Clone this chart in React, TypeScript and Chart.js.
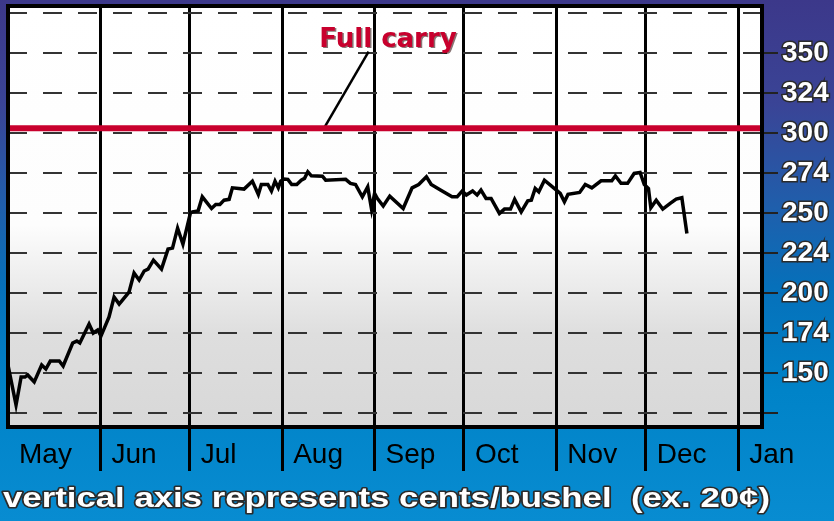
import { useEffect, useRef } from "react";
import { Chart, registerables } from "chart.js";

Chart.register(...registerables);

// ---- data ----
const monthLabels = ["May", "Jun", "Jul", "Aug", "Sep", "Oct", "Nov", "Dec", "Jan"];
const monthStartDays = [0, 31, 61, 92, 123, 153, 184, 214, 245];

const yTickValues = [125, 150, 175, 200, 225, 250, 275, 300, 325, 350, 375];
const yTickLabels = ["", "150", "174", "200", "224", "250", "274", "300", "324", "350", ""];

const priceDays = [
  0, 2.7, 4.4, 5.7, 6.6, 8.8, 11.3, 12.7, 14.2, 17.2,
  18.5, 21.7, 23.1, 24.1, 27.2, 28.6, 30.1, 31.2, 33.9, 35.6,
  37.3, 40.6, 42.3, 44.0, 45.7, 47.0, 48.8, 51.5, 53.7, 55.2,
  56.9, 58.7, 61.2, 61.9, 63.8, 65.2, 68.3, 69.7, 71.1, 72.5,
  74.2, 75.3, 79.2, 82.0, 84.0, 85.0, 87.2, 88.4, 89.6, 90.7,
  91.5, 92.6, 93.9, 95.2, 96.9, 98.4, 99.5, 100.6, 101.8, 105.5,
  106.6, 113.3, 114.9, 116.6, 118.9, 120.7, 122.0, 123.0, 123.9, 125.9,
  128.1, 132.6, 135.6, 137.8, 140.4, 142.0, 145.1, 149.0, 150.7, 152.4,
  153.8, 155.9, 157.4, 158.7, 160.4, 162.1, 164.9, 166.6, 168.6, 170.0,
  172.2, 174.4, 175.6, 176.9, 178.1, 180.0, 183.6, 185.3, 186.7, 187.9,
  191.8, 193.7, 195.9, 199.0, 202.6, 203.8, 205.7, 207.9, 210.1, 212.1,
  213.5, 214.9, 215.7, 217.5, 219.7, 222.2, 224.2, 226.1, 227.8,
];
const priceCents = [
  155, 130, 147.5, 147.5, 148.8, 144.4, 155, 152.5, 157.5, 157.5,
  154.4, 168.8, 170, 168.8, 180.6, 175, 176.9, 173.1, 185, 197.5,
  193.1, 200.6, 212.5, 208.1, 213.8, 215, 220.6, 215, 227.5, 228.1,
  240.6, 230.6, 250, 250.8, 251.4, 260.2, 252.9, 255.4, 255.4, 258.1,
  258.6, 265.8, 265, 270, 261.7, 267.9, 267.9, 263.8, 270, 265.8,
  270, 271.3, 271.1, 267.9, 267.9, 270.6, 271.7, 275.8, 273.3, 273.1,
  270.6, 271.1, 268.6, 267.9, 260.2, 266.4, 252.3, 262.3, 259.2, 254.4,
  260.6, 252.9, 265.8, 267.9, 272.7, 267.9, 264.4, 260.2, 260.2, 263.8,
  261.3, 263.8, 261.3, 264.4, 259.2, 259.2, 249.8, 252.5, 252.5, 258.6,
  250.8, 257.7, 258.1, 265.4, 263.3, 270.6, 265, 262.3, 257.1, 261.7,
  262.9, 267.9, 265.8, 270.2, 270.2, 273.3, 268.6, 268.6, 274.8, 275.4,
  267.9, 265.4, 253.3, 258.1, 252.5, 256.1, 258.8, 259.6, 237.3,
];

const fullCarryDays = [0, 253];
const fullCarryCents = [303, 303];
const leaderDays = [106, 121];
const leaderCents = [303, 351];

const annotationText = "Full carry";
const annotationDay = 127.5;
const annotationCents = 354;
const captionText = "vertical axis represents cents/bushel  (ex. 20\u00a2)";

const X_MIN = 0;
const X_MAX = 253;
const Y_MIN = 116.25;
const Y_MAX = 379.5;

const toPoints = (xs: number[], ys: number[]) => xs.map((x, i) => ({ x, y: ys[i] }));

const decorPlugin = {
  id: "decor",
  beforeDraw(chart: any) {
    const { ctx, width, height, chartArea: a } = chart;
    ctx.save();
    const g = ctx.createLinearGradient(0, 0, 0, height);
    g.addColorStop(0, "#3c388a");
    g.addColorStop(0.2, "#3a4496");
    g.addColorStop(0.4, "#1f5fac");
    g.addColorStop(0.55, "#0670ba");
    g.addColorStop(0.75, "#0083c8");
    g.addColorStop(1, "#088cd1");
    ctx.fillStyle = g;
    ctx.fillRect(0, 0, width, height);
    const p = ctx.createLinearGradient(0, a.top, 0, a.bottom);
    p.addColorStop(0, "#ffffff");
    p.addColorStop(0.52, "#fdfdfd");
    p.addColorStop(0.6, "#f3f3f3");
    p.addColorStop(0.78, "#dedede");
    p.addColorStop(1, "#d8d8d8");
    ctx.fillStyle = p;
    ctx.fillRect(a.left, a.top, a.right - a.left, a.bottom - a.top);
    ctx.restore();
  },
  afterDatasetsDraw(chart: any) {
    const { ctx, chartArea: a } = chart;
    ctx.save();
    ctx.strokeStyle = "#000";
    ctx.lineWidth = 4;
    ctx.strokeRect(a.left, a.top, a.right - a.left, a.bottom - a.top);
    ctx.restore();
  },
  afterDraw(chart: any) {
    const { ctx, scales } = chart;
    ctx.save();
    const ax = scales.x.getPixelForValue(annotationDay);
    const ay = scales.y.getPixelForValue(annotationCents);
    ctx.font = 'bold 26px "DejaVu Sans", sans-serif';
    ctx.textAlign = "center";
    ctx.textBaseline = "alphabetic";
    ctx.shadowColor = "rgba(40,0,0,0.55)";
    ctx.shadowOffsetX = 1.5;
    ctx.shadowOffsetY = 1.5;
    ctx.shadowBlur = 0.5;
    ctx.fillStyle = "#c8002d";
    ctx.fillText(annotationText, ax, ay);
    ctx.restore();

    ctx.save();
    ctx.font = 'bold 28px "Liberation Sans", Arial, sans-serif';
    ctx.textAlign = "left";
    ctx.textBaseline = "alphabetic";
    const w = ctx.measureText(captionText).width;
    const sx = 767 / w;
    ctx.translate(3, 507);
    ctx.scale(sx, 1);
    ctx.lineJoin = "round";
    ctx.lineWidth = 3;
    ctx.strokeStyle = "#2b2b2b";
    ctx.strokeText(captionText, 0, 0);
    ctx.fillStyle = "#ffffff";
    ctx.fillText(captionText, 0, 0);
    ctx.restore();
  },
};

export default function App() {
  const ref = useRef<HTMLCanvasElement | null>(null);

  useEffect(() => {
    document.body.style.margin = "0";
    const canvas = ref.current;
    if (!canvas) return;
    const chart = new Chart(canvas, {
      type: "line",
      data: {
        datasets: [
          {
            label: "Spread",
            data: toPoints(priceDays, priceCents),
            borderColor: "#000",
            borderWidth: 3.5,
            pointRadius: 0,
            tension: 0,
            fill: false,
            borderJoinStyle: "miter",
          },
          {
            label: "Full carry",
            data: toPoints(fullCarryDays, fullCarryCents),
            borderColor: "#c8002d",
            borderWidth: 6,
            pointRadius: 0,
            fill: false,
          },
          {
            label: "Leader",
            data: toPoints(leaderDays, leaderCents),
            borderColor: "#000",
            borderWidth: 2.5,
            pointRadius: 0,
            fill: false,
          },
        ],
      },
      options: {
        animation: false,
        responsive: false,
        events: [],
        layout: { padding: { left: 8, top: 6, right: 0, bottom: 0 } },
        plugins: {
          legend: { display: false },
          tooltip: { enabled: false },
          title: { display: false },
        },
        scales: {
          x: {
            type: "linear",
            position: "bottom",
            min: X_MIN,
            max: X_MAX,
            afterBuildTicks: (scale: any) => {
              scale.ticks = monthStartDays.map((v) => ({ value: v }));
            },
            afterFit: (scale: any) => {
              scale.height = 94;
              scale.paddingLeft = 0;
              scale.paddingRight = 0;
            },
            border: { display: false },
            grid: {
              color: (c: any) => (c.index === 0 ? "rgba(0,0,0,0)" : "#000"),
              lineWidth: 3,
              drawTicks: true,
              tickLength: 44,
              tickColor: (c: any) => (c.index === 0 ? "rgba(0,0,0,0)" : "#000"),
              tickWidth: 3,
            },
            ticks: {
              autoSkip: false,
              maxRotation: 0,
              minRotation: 0,
              align: "start",
              labelOffset: 11,
              padding: -33,
              color: "#000",
              font: { family: '"Liberation Sans", Arial, sans-serif', size: 28 },
              callback: (_v: any, i: number) => monthLabels[i],
            },
          },
          y: {
            type: "linear",
            position: "right",
            min: Y_MIN,
            max: Y_MAX,
            afterBuildTicks: (scale: any) => {
              scale.ticks = yTickValues.map((v) => ({ value: v }));
            },
            afterFit: (scale: any) => {
              scale.width = 72;
              scale.paddingTop = 0;
              scale.paddingBottom = 0;
            },
            border: { display: false, dash: [19, 16] },
            grid: {
              color: "#333",
              lineWidth: 2,
              drawTicks: true,
              tickLength: 16,
              tickBorderDash: [],
              tickColor: (c: any) =>
                c.tick && c.tick.value === 375 ? "rgba(0,0,0,0)" : "#222",
              tickWidth: 2,
            },
            ticks: {
              padding: 4,
              color: "#ffffff",
              textStrokeColor: "#2b2b2b",
              textStrokeWidth: 3,
              font: { family: '"Liberation Sans", Arial, sans-serif', size: 28, weight: "bold" },
              callback: (_v: any, i: number) => yTickLabels[i],
            },
          },
        },
      } as any,
      plugins: [decorPlugin],
    });
    return () => chart.destroy();
  }, []);

  return (
    <div style={{ width: 834, height: 521, position: "relative", overflow: "hidden" }}>
      <canvas ref={ref} width={834} height={521} style={{ display: "block" }} />
    </div>
  );
}
